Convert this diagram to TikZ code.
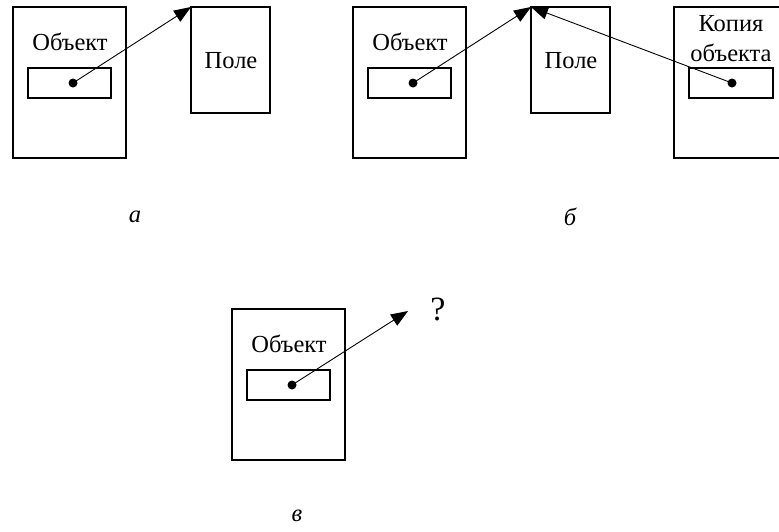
\documentclass[tikz,border=0pt]{standalone}
\usepackage{fontspec}
\setmainfont{Liberation Serif}
\usetikzlibrary{calc,arrows.meta}

\begin{document}
\begin{tikzpicture}[x=1pt,y=-1pt,font=\fontsize{24.5}{30}\selectfont,
	box/.style={draw,line width=1.5pt,inner sep=0,outer sep=0,anchor=north west},
	ptr/.style={line width=0.9pt,-{Triangle[length=17pt,width=13pt]}}]
	\useasboundingbox (0,0) rectangle (779,531);
	\newcommand{\boxw}{113}
	\newcommand{\boxh}{151}
	\foreach \n/\x/\y in {a/13/7,b/353/7,v/232/309}{ %объект с полем-ссылкой
		\node[box,minimum width=\boxw pt,minimum height=\boxh pt] (obj-\n) at (\x,\y) {};
		\node at ($(\x,\y)+(57,35)$) {Объект};
		\node[box,minimum width=83pt,minimum height=30pt] (fld-\n) at ($(\x,\y)+(15,61)$) {};
		\coordinate (dot-\n) at ($(\x,\y)+(60,76)$);
		\fill (dot-\n) circle (4.5pt);
	}
	\node[box,minimum width=79pt,minimum height=106pt] (pole-a) at (191,7) {}; %поле (а)
	\node at ($(pole-a.north west)+(40,54)$) {Поле};
	\node[box,minimum width=79pt,minimum height=106pt] (pole-b) at (531,7) {}; %поле (б)
	\node at ($(pole-b.north west)+(40,54)$) {Поле};
	\node[box,minimum width=\boxw pt,minimum height=\boxh pt] (copy) at (674,7) {}; %копия
	\node[align=center] at (731,39) {Копия\\объекта};
	\node[box,minimum width=84pt,minimum height=30pt] (fld-copy) at (689,68) {};
	\coordinate (dot-copy) at (732,83);
	\fill (dot-copy) circle (4.5pt);
	\coordinate (q) at (408,311); %в никуда
	\node[font=\fontsize{34}{40}\selectfont] (ask) at (438,309) {?};
	\draw[ptr] (dot-a) -- (pole-a.north west);
	\draw[ptr] (dot-b) -- (pole-b.north west);
	\draw[ptr] (dot-copy) -- (pole-b.north west);
	\draw[ptr] (dot-v) -- (q);
	\node[font=\fontsize{24.5}{30}\itshape] (lab-a) at (135,217) {а};
	\node[font=\fontsize{24.5}{30}\itshape] (lab-b) at (570,217) {б};
	\node[font=\fontsize{24.5}{30}\itshape] (lab-v) at (297,516) {в};
\end{tikzpicture}
\end{document}
